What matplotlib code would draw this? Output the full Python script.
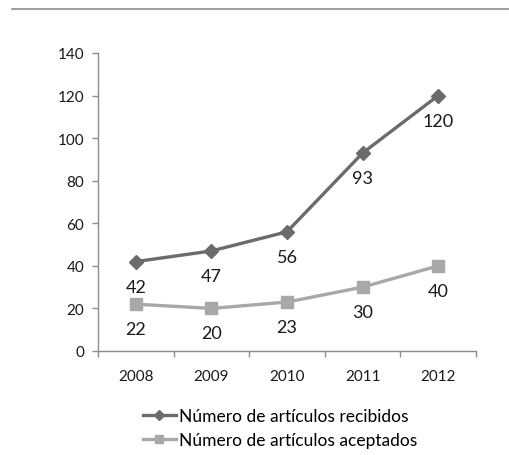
import matplotlib
matplotlib.use("Agg")
import matplotlib.pyplot as plt
from matplotlib.lines import Line2D

years = ["2008", "2009", "2010", "2011", "2012"]
recibidos = [42, 47, 56, 93, 120]
aceptados = [22, 20, 23, 30, 40]
y_ticks = [0, 20, 40, 60, 80, 100, 120, 140]

plt.rcParams['font.family'] = ['Lato', 'DejaVu Sans']

W, H = 509, 456
fig = plt.figure(figsize=(W / 100, H / 100), dpi=100)

# thin rule across the top of the page
fig.add_artist(Line2D([12 / W, 1.0], [1 - 9.5 / H, 1 - 9.5 / H],
                      color="#8c8c8c", lw=1.2))

x0, x1 = 98, 476
y0, y1 = 352, 54
ax = fig.add_axes([x0 / W, 1 - y0 / H, (x1 - x0) / W, (y0 - y1) / H])

xs = list(range(len(years)))
dark = "#6b6b6b"
light = "#a8a8a8"

ax.plot(xs, recibidos, color=dark, lw=2.4, marker="D", ms=7,
        label="Número de artículos recibidos")
ax.plot(xs, aceptados, color=light, lw=2.4, marker="s", ms=9,
        label="Número de artículos aceptados")

for series in (recibidos, aceptados):
    for x, v in zip(xs, series):
        ax.annotate(str(v), (x, v), xytext=(0, -18), textcoords="offset points",
                    ha="center", va="center", fontsize=13, color="#1a1a1a")

ax.set_xlim(-0.5, len(years) - 0.5)
ax.set_ylim(0, 140)
ax.set_yticks(y_ticks)
ax.set_yticklabels([str(t) for t in y_ticks], fontsize=11, color="#1a1a1a")

# category labels centered, tick marks on category boundaries
ax.set_xticks(xs)
ax.set_xticklabels(years, fontsize=11, color="#1a1a1a")
ax.tick_params(axis="x", length=0, pad=13)
ax.set_xticks([i - 0.5 for i in range(len(years) + 1)], minor=True)
ax.tick_params(axis="x", which="minor", length=4, color="#8c8c8c", width=1)
ax.tick_params(axis="y", length=4, color="#8c8c8c", width=1, pad=6)

for s in ["top", "right"]:
    ax.spines[s].set_visible(False)
for s in ["left", "bottom"]:
    ax.spines[s].set_color("#8c8c8c")
    ax.spines[s].set_linewidth(1)

fig.legend(loc="upper left", bbox_to_anchor=(136 / W, 1 - 402 / H),
           frameon=False, fontsize=12.5, handlelength=1.9, handletextpad=0.15,
           labelspacing=0.45, borderaxespad=0, markerscale=0.7)

fig.savefig("out.png", dpi=100, facecolor="white")
